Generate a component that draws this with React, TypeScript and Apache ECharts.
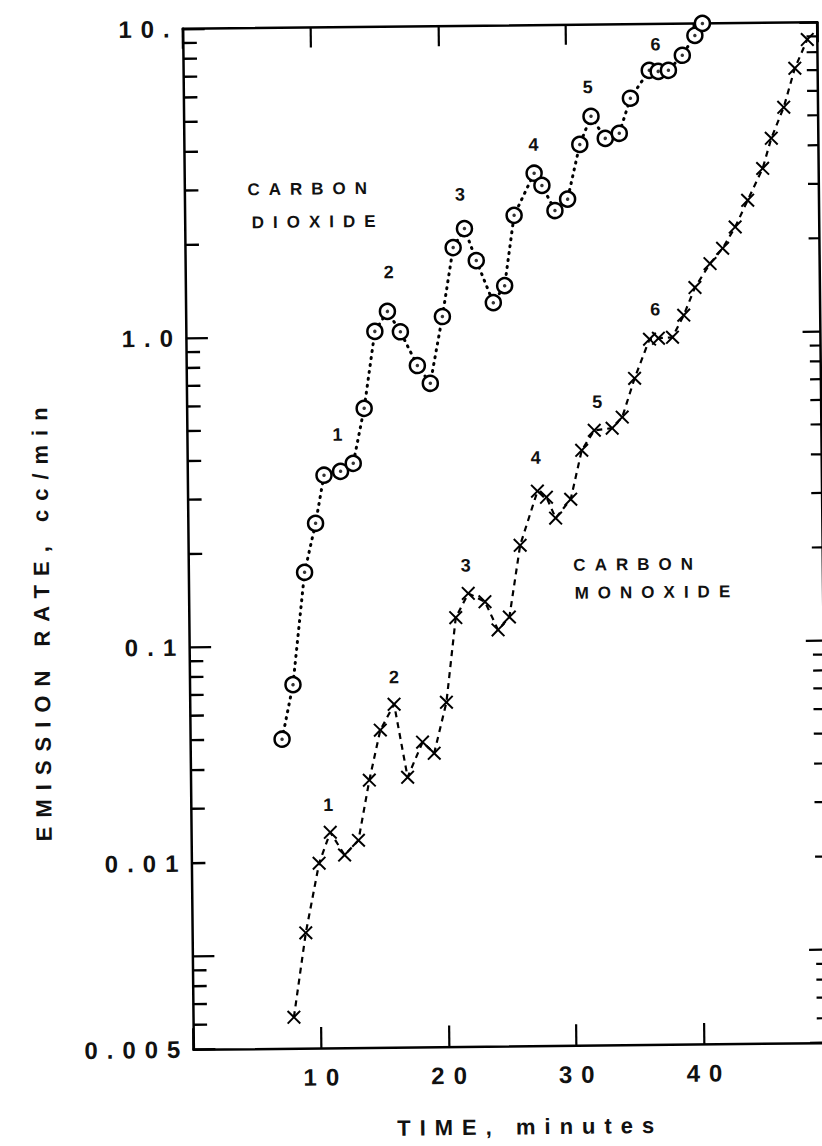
import React, { useEffect, useRef } from "react";
import * as echarts from "echarts";

// ---- data ----
const co2Time = [7.2, 8.1, 9.1, 10.0, 10.7, 12.0, 13.0, 13.9, 14.8, 15.8, 16.8, 18.1, 19.1, 20.1, 21.0, 21.9, 22.8, 24.1, 25.0, 25.8, 27.4, 28.0, 29.0, 30.0, 31.0, 31.9, 33.0, 34.1, 35.0, 36.5, 37.2, 38.0, 39.1, 40.1, 40.7];
const co2Rate = [0.05, 0.075, 0.173, 0.249, 0.356, 0.366, 0.388, 0.584, 1.035, 1.2, 1.03, 0.8, 0.7, 1.15, 1.92, 2.21, 1.74, 1.27, 1.44, 2.43, 3.32, 3.03, 2.51, 2.73, 4.1, 5.05, 4.28, 4.44, 5.76, 7.08, 7.02, 7.07, 7.9, 9.15, 10.0];

const coTime = [7.9, 8.9, 10.0, 10.9, 12.0, 13.1, 14.0, 14.9, 16.0, 17.0, 18.2, 19.1, 20.1, 20.9, 21.9, 23.2, 24.2, 25.1, 26.0, 27.4, 28.1, 28.8, 30.0, 30.9, 31.9, 33.3, 34.1, 35.1, 36.3, 37.0, 38.1, 39.0, 39.9, 41.1, 42.1, 43.1, 44.1, 45.3, 46.0, 47.0, 47.9, 48.9];
const coRate = [0.0063, 0.0118, 0.0198, 0.0249, 0.021, 0.0234, 0.0366, 0.0531, 0.0643, 0.0373, 0.0484, 0.0445, 0.065, 0.122, 0.146, 0.137, 0.111, 0.122, 0.208, 0.311, 0.297, 0.254, 0.292, 0.42, 0.487, 0.494, 0.536, 0.715, 0.956, 0.962, 0.968, 1.14, 1.4, 1.67, 1.87, 2.19, 2.67, 3.38, 4.23, 5.32, 7.11, 8.8];

const xMin = 0;
const xMax = 49.7;
const xInterval = 10;
const xTickTexts = ["10", "20", "30", "40"];

const yMin = 0.005;
const yMax = 10;
const yTickValues = [0.005, 0.1, 1, 10];
const yTickTexts = ["0.005", "0.1", "1.0", "10."];
const yStrayLabelValue = 0.02;
const yStrayLabelText = "0.01";
const yMinorTicks = [0.006, 0.007, 0.008, 0.009, 0.02, 0.03, 0.04, 0.05, 0.06, 0.07, 0.08, 0.09, 0.2, 0.3, 0.4, 0.5, 0.6, 0.7, 0.8, 0.9, 2, 3, 4, 5, 6, 7, 8, 9];

const stageNumbers = ["1", "2", "3", "4", "5", "6"];
const xTitle = "TIME, minutes";
const yTitle = "EMISSION RATE, cc/min";
const co2Name = ["CARBON", "DIOXIDE"];
const coName = ["CARBON", "MONOXIDE"];

const FONT = "'Liberation Sans', Arial, sans-serif";

export default function App() {
  const ref = useRef<HTMLDivElement>(null);

  useEffect(() => {
    if (!ref.current) return;
    const chart = echarts.init(ref.current, undefined, { renderer: "svg", width: 850, height: 1146 });

    const gridLeft = 188;
    const gridTop = 25.5;
    const gridWidth = 634.7;
    const gridHeight = 1020.5;

    const co2Data = co2Time.map((t, i) => [t, co2Rate[i]]);
    const coData = coTime.map((t, i) => [t, coRate[i]]);

    const tickLabel = (v: number) => {
      for (let i = 0; i < yTickValues.length; i++) {
        if (Math.abs(Math.log10(v) - Math.log10(yTickValues[i])) < 1e-4) return yTickTexts[i];
      }
      return "";
    };

    const co2NumPos = [[343, 433], [396, 271], [468, 194], [542, 145], [597, 88], [665, 46]];
    const coNumPos = [[330, 803], [397, 676], [470, 565], [541, 458], [603, 403], [662, 311]];

    const numStyle = (t: string) => ({
      text: t,
      fill: "#111",
      font: `bold 18px ${FONT}`,
      textAlign: "center",
      textVerticalAlign: "middle",
    });

    const baseGraphics: any[] = [
      ...stageNumbers.map((t, i) => ({ id: "c2n" + i, type: "text", x: co2NumPos[i][0], y: co2NumPos[i][1], style: numStyle(t), z: 10 })),
      ...stageNumbers.map((t, i) => ({ id: "con" + i, type: "text", x: coNumPos[i][0], y: coNumPos[i][1], style: numStyle(t), z: 10 })),
      { id: "co2a", type: "text", x: 251, y: 187, style: { text: co2Name[0], fill: "#111", font: `bold 17px ${FONT}`, textAlign: "left", textVerticalAlign: "middle" } },
      { id: "co2b", type: "text", x: 255, y: 220, style: { text: co2Name[1], fill: "#111", font: `bold 17px ${FONT}`, textAlign: "left", textVerticalAlign: "middle" } },
      { id: "coa", type: "text", x: 573, y: 566, style: { text: coName[0], fill: "#111", font: `bold 17px ${FONT}`, textAlign: "left", textVerticalAlign: "middle" } },
      { id: "cob", type: "text", x: 574, y: 594, style: { text: coName[1], fill: "#111", font: `bold 17px ${FONT}`, textAlign: "left", textVerticalAlign: "middle" } },
      { id: "xt", type: "text", x: 524, y: 1127, style: { text: xTitle, fill: "#111", font: `bold 22px ${FONT}`, textAlign: "center", textVerticalAlign: "middle" } },
      { id: "yt", type: "text", x: 41, y: 615, rotation: Math.PI / 2, style: { text: yTitle, fill: "#111", font: `bold 22px ${FONT}`, textAlign: "center", textVerticalAlign: "middle" } },
    ];

    const axisLineStyle = { color: "#000", width: 2.5 };
    const tickStyle = { color: "#000", width: 2.2 };

    const option: any = {
      animation: false,
      backgroundColor: "#fff",
      grid: { left: gridLeft, top: gridTop, width: gridWidth, height: gridHeight, containLabel: false },
      xAxis: [
        {
          type: "value",
          min: xMin,
          max: xMax,
          interval: xInterval,
          position: "bottom",
          axisLine: { show: true, onZero: false, lineStyle: axisLineStyle },
          axisTick: { show: true, inside: true, length: 21, lineStyle: tickStyle },
          splitLine: { show: false },
          axisLabel: {
            show: true,
            margin: 17,
            padding: [0, 0, 0, 9],
            fontFamily: FONT,
            fontWeight: "bold",
            fontSize: 24,
            color: "#111",
            formatter: (v: number) => {
              const s = String(Math.round(v));
              return xTickTexts.indexOf(s) >= 0 && Math.abs(v - Math.round(v)) < 1e-6 ? s : "";
            },
          },
        },
        {
          type: "value",
          min: xMin,
          max: xMax,
          interval: xInterval,
          position: "top",
          axisLine: { show: true, onZero: false, lineStyle: axisLineStyle },
          axisTick: { show: true, inside: true, length: 20, lineStyle: tickStyle },
          splitLine: { show: false },
          axisLabel: { show: false },
        },
      ],
      yAxis: [
        {
          type: "log",
          logBase: 10,
          min: yMin,
          max: yMax,
          position: "left",
          axisLine: { show: true, onZero: false, lineStyle: axisLineStyle },
          axisTick: { show: true, inside: true, length: 22, lineStyle: tickStyle },
          splitLine: { show: false },
          axisLabel: {
            show: true,
            margin: 4,
            fontFamily: FONT,
            fontWeight: "bold",
            fontSize: 24,
            color: "#111",
            formatter: tickLabel,
          },
        },
        {
          type: "log",
          logBase: 10,
          min: yMin,
          max: yMax,
          position: "right",
          axisLine: { show: true, onZero: false, lineStyle: axisLineStyle },
          axisTick: { show: true, inside: true, length: 18, lineStyle: tickStyle },
          splitLine: { show: false },
          axisLabel: { show: false },
        },
      ],
      series: [
        {
          type: "custom",
          silent: true,
          clip: false,
          xAxisIndex: 0,
          yAxisIndex: 0,
          data: yMinorTicks.map((v) => [xMin, v]),
          renderItem: (params: any, api: any) => {
            const v = api.value(1);
            const pl = api.coord([xMin, v]);
            const pr = api.coord([xMax, v]);
            return {
              type: "group",
              children: [
                { type: "line", shape: { x1: pl[0], y1: pl[1], x2: pl[0] + 14, y2: pl[1] }, style: { stroke: "#000", lineWidth: 2.4 } },
                { type: "line", shape: { x1: pr[0], y1: pr[1], x2: pr[0] - 11, y2: pr[1] }, style: { stroke: "#000", lineWidth: 2.2 } },
              ],
            };
          },
          z: 5,
        },
        {
          name: "Carbon dioxide",
          type: "line",
          data: co2Data,
          symbol: "circle",
          symbolSize: 15,
          itemStyle: { color: "#fff", borderColor: "#000", borderWidth: 2.5 },
          lineStyle: { color: "#000", width: 3, type: [1, 6], cap: "round" },
          z: 3,
          silent: true,
        },
        {
          name: "Carbon dioxide centre",
          type: "scatter",
          data: co2Data,
          symbol: "circle",
          symbolSize: 3.5,
          itemStyle: { color: "#000" },
          z: 4,
          silent: true,
        },
        {
          name: "Carbon monoxide",
          type: "line",
          data: coData,
          symbol: "path://M0,2L2,0L10,8L18,0L20,2L12,10L20,18L18,20L10,12L2,20L0,18L8,10Z",
          symbolSize: 14,
          itemStyle: { color: "#000" },
          lineStyle: { color: "#000", width: 2.2, type: [6, 5] },
          z: 3,
          silent: true,
        },
      ],
      graphic: { elements: baseGraphics },
    };

    chart.setOption(option);

    const pt = chart.convertToPixel({ gridIndex: 0 }, [xMin, yStrayLabelValue]) as number[];
    chart.setOption({
      graphic: {
        elements: [
          ...baseGraphics,
          {
            id: "stray",
            type: "text",
            x: gridLeft - 4,
            y: pt[1],
            style: { text: yStrayLabelText, fill: "#111", font: `bold 24px ${FONT}`, textAlign: "right", textVerticalAlign: "middle" },
          },
        ],
      },
    });

    return () => chart.dispose();
  }, []);

  return (
    <div style={{ position: "absolute", left: 0, top: 0, width: 822, height: 1146, overflow: "hidden", background: "#fff" }}>
      <div
        ref={ref}
        style={{
          width: 850,
          height: 1146,
          letterSpacing: "9px",
          transform: "rotate(-0.6deg)",
          transformOrigin: "505px 536px",
        }}
      />
    </div>
  );
}
